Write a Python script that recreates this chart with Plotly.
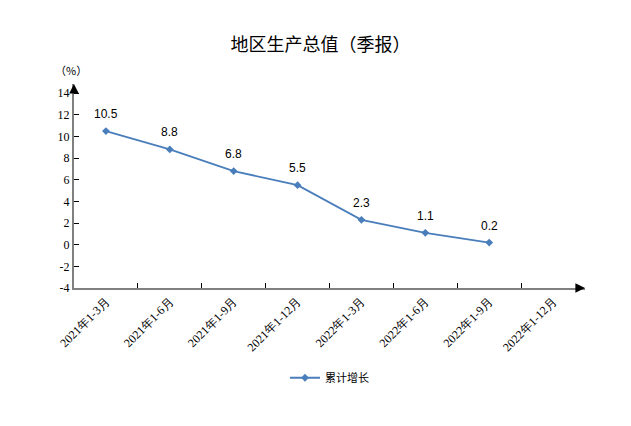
import plotly.graph_objects as go

categories = ["2021年1-3月", "2021年1-6月", "2021年1-9月", "2021年1-12月",
              "2022年1-3月", "2022年1-6月", "2022年1-9月", "2022年1-12月"]
values = [10.5, 8.8, 6.8, 5.5, 2.3, 1.1, 0.2, None]
y_ticks = [-4, -2, 0, 2, 4, 6, 8, 10, 12, 14]
y_tick_labels = ["-4", "-2", "0", "2", "4", "6", "8", "10", "12", "14"]
series_name = "累计增长"
title_text = "地区生产总值（季报）"
unit_text = "（%）"

line_color = "#4A7EBB"
axis_color = "#808080"
serif = "Liberation Serif"

fig = go.Figure()
fig.add_trace(go.Scatter(
    x=categories, y=values, mode="lines+markers", name=series_name,
    line=dict(color=line_color, width=1.8),
    marker=dict(symbol="diamond", size=6, color=line_color),
))

for c, v in zip(categories, values):
    if v is None:
        continue
    fig.add_annotation(x=c, y=v, text=f"{v:.1f}", showarrow=False, yshift=17,
                       font=dict(family="Liberation Sans, Arial, sans-serif", size=12, color="#000"))

# axis arrows
fig.add_annotation(xref="paper", yref="paper", x=0, y=1.0, ax=0, ay=6, axref="pixel", ayref="pixel",
                   showarrow=True, arrowhead=2, arrowsize=1.2, arrowwidth=1.6, arrowcolor="#000", text="")
fig.add_annotation(xref="paper", yref="paper", x=1.0, y=0, ax=-6, ay=0,
                   showarrow=True, arrowhead=2, arrowsize=1.2, arrowwidth=1.6, arrowcolor="#000", text="")

fig.add_annotation(xref="paper", yref="paper", x=-0.005, y=1.07, text=unit_text, showarrow=False,
                   xanchor="center", yanchor="middle",
                   font=dict(family="Noto Sans CJK SC", size=11, color="#000"))

fig.update_layout(
    width=631, height=426,
    margin=dict(l=74, r=46, t=84, b=138),
    paper_bgcolor="white", plot_bgcolor="white",
    title=dict(text=title_text, x=0.508, xanchor="center", y=0.895, yanchor="middle",
               font=dict(family="Noto Sans CJK SC", size=18, color="#000")),
    showlegend=True,
    legend=dict(orientation="h", x=0.5, xanchor="center", y=-0.44, yanchor="middle",
                font=dict(family="Noto Sans CJK SC", size=11, color="#000"),
                itemwidth=30),
    xaxis=dict(type="category", categoryorder="array", categoryarray=categories,
               range=[-0.5, 7.5], showline=True, linecolor=axis_color, linewidth=2,
               tickson="boundaries", ticks="inside", ticklen=5, tickcolor="#000",
               tickangle=-45, showgrid=False, zeroline=False,
               tickfont=dict(family=serif, size=12, color="#000")),
    yaxis=dict(range=[-4, 14.85], tickvals=y_ticks, ticktext=y_tick_labels,
               showline=True, linecolor=axis_color,
               linewidth=2, ticks="inside", ticklen=5, tickcolor="#000", showgrid=False,
               zeroline=False, tickfont=dict(family=serif, size=12, color="#000")),
)

fig.write_html("out.html")
